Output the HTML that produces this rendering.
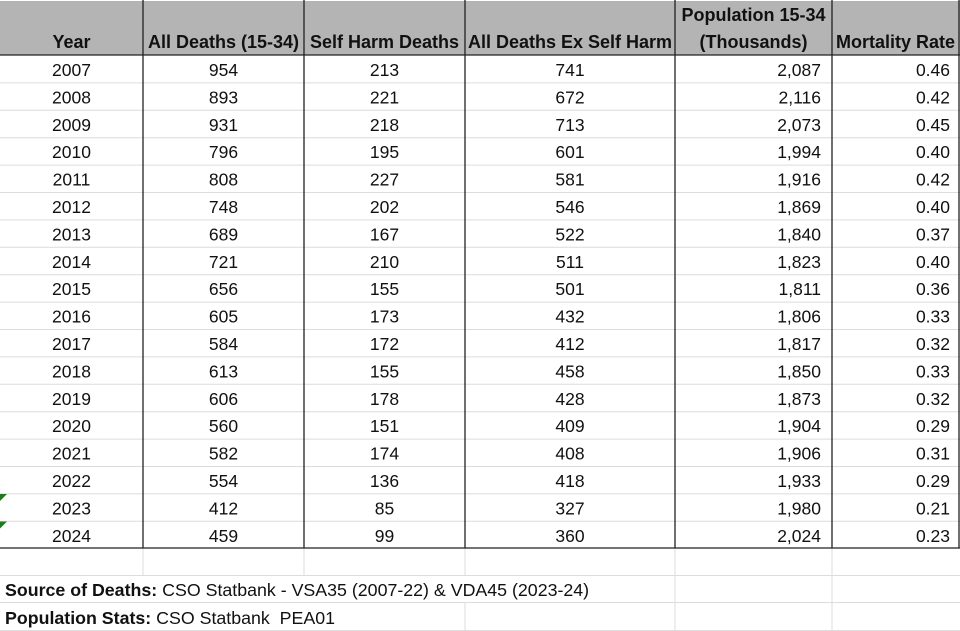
<!DOCTYPE html>
<html><head><meta charset="utf-8"><style>
html,body{margin:0;padding:0;background:#fff;width:960px;height:631px;overflow:hidden}
svg text{font-family:"Liberation Sans",Arial,sans-serif;fill:#111}
.h{font-weight:bold;font-size:18px}
.d{font-size:17.5px}
.s{font-size:17.8px}
</style></head><body>
<svg width="960" height="631" viewBox="0 0 960 631" xmlns="http://www.w3.org/2000/svg">
<rect x="0" y="1" width="960" height="54" fill="#b4b4b4"/>
<g stroke="#dcdcdc" stroke-width="1">
<line x1="0" y1="82.9" x2="960" y2="82.9"/><line x1="0" y1="110.3" x2="960" y2="110.3"/><line x1="0" y1="137.7" x2="960" y2="137.7"/><line x1="0" y1="165.1" x2="960" y2="165.1"/><line x1="0" y1="192.5" x2="960" y2="192.5"/><line x1="0" y1="219.9" x2="960" y2="219.9"/><line x1="0" y1="247.3" x2="960" y2="247.3"/><line x1="0" y1="274.7" x2="960" y2="274.7"/><line x1="0" y1="302.1" x2="960" y2="302.1"/><line x1="0" y1="329.5" x2="960" y2="329.5"/><line x1="0" y1="356.9" x2="960" y2="356.9"/><line x1="0" y1="384.3" x2="960" y2="384.3"/><line x1="0" y1="411.7" x2="960" y2="411.7"/><line x1="0" y1="439.1" x2="960" y2="439.1"/><line x1="0" y1="466.5" x2="960" y2="466.5"/><line x1="0" y1="493.9" x2="960" y2="493.9"/><line x1="0" y1="521.3" x2="960" y2="521.3"/>
<line x1="0" y1="575.5" x2="960" y2="575.5"/><line x1="0" y1="602.5" x2="960" y2="602.5"/><line x1="0" y1="630.5" x2="960" y2="630.5"/>
<line x1="143" y1="548" x2="143" y2="575"/><line x1="304" y1="548" x2="304" y2="575"/><line x1="465" y1="548" x2="465" y2="575"/><line x1="675" y1="548" x2="675" y2="631"/><line x1="832" y1="548" x2="832" y2="631"/><line x1="465" y1="603" x2="465" y2="631"/>
</g>
<g stroke="#222" stroke-width="1.3">
<line x1="143" y1="0" x2="143" y2="548"/><line x1="304" y1="0" x2="304" y2="548"/><line x1="465" y1="0" x2="465" y2="548"/><line x1="675" y1="0" x2="675" y2="548"/><line x1="832" y1="0" x2="832" y2="548"/><line x1="959" y1="0" x2="959" y2="548"/>
<line x1="0" y1="55" x2="960" y2="55"/><line x1="0" y1="548" x2="960" y2="548"/>
</g>
<polygon points="0,494 7,494 0,501" fill="#1f7a1f"/><polygon points="0,521.5 7,521.5 0,528.5" fill="#1f7a1f"/>
<text x="71.5" y="48" text-anchor="middle" class="h">Year</text>
<text x="223.5" y="48" text-anchor="middle" class="h">All Deaths (15-34)</text>
<text x="384.5" y="48" text-anchor="middle" class="h">Self Harm Deaths</text>
<text x="570" y="48" text-anchor="middle" class="h">All Deaths Ex Self Harm</text>
<text x="753.5" y="21" text-anchor="middle" class="h">Population 15-34</text>
<text x="753.5" y="48" text-anchor="middle" class="h">(Thousands)</text>
<text x="895.5" y="48" text-anchor="middle" class="h">Mortality Rate</text>
<text x="5" y="596" class="s"><tspan font-weight="bold">Source of Deaths:</tspan> CSO Statbank - VSA35 (2007-22) &amp; VDA45 (2023-24)</text>
<text x="5" y="624" class="s" xml:space="preserve"><tspan font-weight="bold">Population Stats:</tspan> CSO Statbank  PEA01</text>
<g>
<text x="71.5" y="76" text-anchor="middle" class="d">2007</text><text x="223.5" y="76" text-anchor="middle" class="d">954</text><text x="384.5" y="76" text-anchor="middle" class="d">213</text><text x="570" y="76" text-anchor="middle" class="d">741</text><text x="821" y="76" text-anchor="end" class="d">2,087</text><text x="950" y="76" text-anchor="end" class="d">0.46</text>
<text x="71.5" y="103.4" text-anchor="middle" class="d">2008</text><text x="223.5" y="103.4" text-anchor="middle" class="d">893</text><text x="384.5" y="103.4" text-anchor="middle" class="d">221</text><text x="570" y="103.4" text-anchor="middle" class="d">672</text><text x="821" y="103.4" text-anchor="end" class="d">2,116</text><text x="950" y="103.4" text-anchor="end" class="d">0.42</text>
<text x="71.5" y="130.8" text-anchor="middle" class="d">2009</text><text x="223.5" y="130.8" text-anchor="middle" class="d">931</text><text x="384.5" y="130.8" text-anchor="middle" class="d">218</text><text x="570" y="130.8" text-anchor="middle" class="d">713</text><text x="821" y="130.8" text-anchor="end" class="d">2,073</text><text x="950" y="130.8" text-anchor="end" class="d">0.45</text>
<text x="71.5" y="158.2" text-anchor="middle" class="d">2010</text><text x="223.5" y="158.2" text-anchor="middle" class="d">796</text><text x="384.5" y="158.2" text-anchor="middle" class="d">195</text><text x="570" y="158.2" text-anchor="middle" class="d">601</text><text x="821" y="158.2" text-anchor="end" class="d">1,994</text><text x="950" y="158.2" text-anchor="end" class="d">0.40</text>
<text x="71.5" y="185.6" text-anchor="middle" class="d">2011</text><text x="223.5" y="185.6" text-anchor="middle" class="d">808</text><text x="384.5" y="185.6" text-anchor="middle" class="d">227</text><text x="570" y="185.6" text-anchor="middle" class="d">581</text><text x="821" y="185.6" text-anchor="end" class="d">1,916</text><text x="950" y="185.6" text-anchor="end" class="d">0.42</text>
<text x="71.5" y="213" text-anchor="middle" class="d">2012</text><text x="223.5" y="213" text-anchor="middle" class="d">748</text><text x="384.5" y="213" text-anchor="middle" class="d">202</text><text x="570" y="213" text-anchor="middle" class="d">546</text><text x="821" y="213" text-anchor="end" class="d">1,869</text><text x="950" y="213" text-anchor="end" class="d">0.40</text>
<text x="71.5" y="240.4" text-anchor="middle" class="d">2013</text><text x="223.5" y="240.4" text-anchor="middle" class="d">689</text><text x="384.5" y="240.4" text-anchor="middle" class="d">167</text><text x="570" y="240.4" text-anchor="middle" class="d">522</text><text x="821" y="240.4" text-anchor="end" class="d">1,840</text><text x="950" y="240.4" text-anchor="end" class="d">0.37</text>
<text x="71.5" y="267.8" text-anchor="middle" class="d">2014</text><text x="223.5" y="267.8" text-anchor="middle" class="d">721</text><text x="384.5" y="267.8" text-anchor="middle" class="d">210</text><text x="570" y="267.8" text-anchor="middle" class="d">511</text><text x="821" y="267.8" text-anchor="end" class="d">1,823</text><text x="950" y="267.8" text-anchor="end" class="d">0.40</text>
<text x="71.5" y="295.2" text-anchor="middle" class="d">2015</text><text x="223.5" y="295.2" text-anchor="middle" class="d">656</text><text x="384.5" y="295.2" text-anchor="middle" class="d">155</text><text x="570" y="295.2" text-anchor="middle" class="d">501</text><text x="821" y="295.2" text-anchor="end" class="d">1,811</text><text x="950" y="295.2" text-anchor="end" class="d">0.36</text>
<text x="71.5" y="322.6" text-anchor="middle" class="d">2016</text><text x="223.5" y="322.6" text-anchor="middle" class="d">605</text><text x="384.5" y="322.6" text-anchor="middle" class="d">173</text><text x="570" y="322.6" text-anchor="middle" class="d">432</text><text x="821" y="322.6" text-anchor="end" class="d">1,806</text><text x="950" y="322.6" text-anchor="end" class="d">0.33</text>
<text x="71.5" y="350" text-anchor="middle" class="d">2017</text><text x="223.5" y="350" text-anchor="middle" class="d">584</text><text x="384.5" y="350" text-anchor="middle" class="d">172</text><text x="570" y="350" text-anchor="middle" class="d">412</text><text x="821" y="350" text-anchor="end" class="d">1,817</text><text x="950" y="350" text-anchor="end" class="d">0.32</text>
<text x="71.5" y="377.4" text-anchor="middle" class="d">2018</text><text x="223.5" y="377.4" text-anchor="middle" class="d">613</text><text x="384.5" y="377.4" text-anchor="middle" class="d">155</text><text x="570" y="377.4" text-anchor="middle" class="d">458</text><text x="821" y="377.4" text-anchor="end" class="d">1,850</text><text x="950" y="377.4" text-anchor="end" class="d">0.33</text>
<text x="71.5" y="404.8" text-anchor="middle" class="d">2019</text><text x="223.5" y="404.8" text-anchor="middle" class="d">606</text><text x="384.5" y="404.8" text-anchor="middle" class="d">178</text><text x="570" y="404.8" text-anchor="middle" class="d">428</text><text x="821" y="404.8" text-anchor="end" class="d">1,873</text><text x="950" y="404.8" text-anchor="end" class="d">0.32</text>
<text x="71.5" y="432.2" text-anchor="middle" class="d">2020</text><text x="223.5" y="432.2" text-anchor="middle" class="d">560</text><text x="384.5" y="432.2" text-anchor="middle" class="d">151</text><text x="570" y="432.2" text-anchor="middle" class="d">409</text><text x="821" y="432.2" text-anchor="end" class="d">1,904</text><text x="950" y="432.2" text-anchor="end" class="d">0.29</text>
<text x="71.5" y="459.6" text-anchor="middle" class="d">2021</text><text x="223.5" y="459.6" text-anchor="middle" class="d">582</text><text x="384.5" y="459.6" text-anchor="middle" class="d">174</text><text x="570" y="459.6" text-anchor="middle" class="d">408</text><text x="821" y="459.6" text-anchor="end" class="d">1,906</text><text x="950" y="459.6" text-anchor="end" class="d">0.31</text>
<text x="71.5" y="487" text-anchor="middle" class="d">2022</text><text x="223.5" y="487" text-anchor="middle" class="d">554</text><text x="384.5" y="487" text-anchor="middle" class="d">136</text><text x="570" y="487" text-anchor="middle" class="d">418</text><text x="821" y="487" text-anchor="end" class="d">1,933</text><text x="950" y="487" text-anchor="end" class="d">0.29</text>
<text x="71.5" y="514.4" text-anchor="middle" class="d">2023</text><text x="223.5" y="514.4" text-anchor="middle" class="d">412</text><text x="384.5" y="514.4" text-anchor="middle" class="d">85</text><text x="570" y="514.4" text-anchor="middle" class="d">327</text><text x="821" y="514.4" text-anchor="end" class="d">1,980</text><text x="950" y="514.4" text-anchor="end" class="d">0.21</text>
<text x="71.5" y="541.8" text-anchor="middle" class="d">2024</text><text x="223.5" y="541.8" text-anchor="middle" class="d">459</text><text x="384.5" y="541.8" text-anchor="middle" class="d">99</text><text x="570" y="541.8" text-anchor="middle" class="d">360</text><text x="821" y="541.8" text-anchor="end" class="d">2,024</text><text x="950" y="541.8" text-anchor="end" class="d">0.23</text>
</g>
</svg>
</body></html>
